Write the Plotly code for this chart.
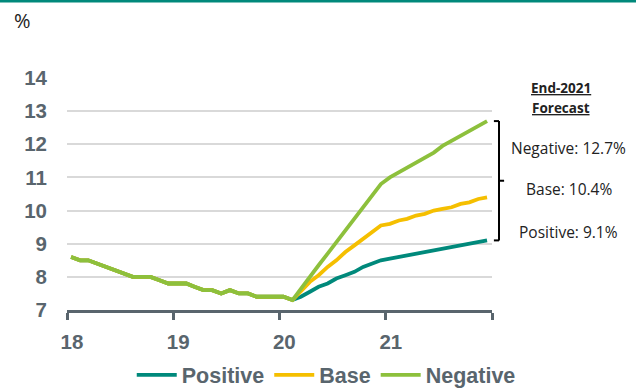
import pandas as pd
import plotly.graph_objects as go

# Monthly observations, mid-month, Jan 2018 - Dec 2021
months = pd.date_range("2018-01-01", "2021-12-01", freq="MS") + pd.Timedelta(days=14)

# Actual rate, Jan 2018 - Feb 2020 (%)
history = [8.6, 8.5, 8.5, 8.4, 8.3, 8.2, 8.1, 8.0, 8.0, 8.0, 7.9, 7.8,
           7.8, 7.8, 7.7, 7.6, 7.6, 7.5, 7.6, 7.5, 7.5, 7.4, 7.4, 7.4,
           7.4, 7.3]

# Scenario paths, Mar 2020 - Dec 2021 (%)
positive_fc = [7.4, 7.55, 7.7, 7.8, 7.95, 8.05, 8.15, 8.3, 8.4, 8.5,
               8.55, 8.6, 8.65, 8.7, 8.75, 8.8, 8.85, 8.9, 8.95, 9.0, 9.05, 9.1]
base_fc = [7.55, 7.85, 8.05, 8.3, 8.5, 8.75, 8.95, 9.15, 9.35, 9.55,
           9.6, 9.7, 9.75, 9.85, 9.9, 10.0, 10.05, 10.1, 10.2, 10.25, 10.35, 10.4]
negative_fc = [7.65, 8.0, 8.35, 8.7, 9.05, 9.4, 9.75, 10.1, 10.45, 10.8,
               11.0, 11.15, 11.3, 11.45, 11.6, 11.75, 11.95, 12.1, 12.25, 12.4, 12.55, 12.7]

scenario_names = ["Positive", "Base", "Negative"]
scenario_colors = ["#00897b", "#f5bf00", "#8dc03c"]
scenario_paths = [positive_fc, base_fc, negative_fc]

year_ticks = ["2018-01-01", "2019-01-01", "2020-01-01", "2021-01-01", "2022-01-01"]
year_labels = ["18", "19", "20", "21", ""]
y_ticks = [7, 8, 9, 10, 11, 12, 13, 14]

AXIS_GREY = "#59656d"
TICK_FONT = dict(family="Liberation Sans, Arial", size=20.5, color=AXIS_GREY, weight="bold")

fig = go.Figure()
for name, color, path in zip(scenario_names, scenario_colors, scenario_paths):
    fig.add_trace(go.Scatter(
        x=months, y=history + path, mode="lines", name=name,
        line=dict(color=color, width=3.8),
    ))

fig.update_layout(
    width=636, height=388,
    margin=dict(l=67, r=144, t=78, b=78, autoexpand=False),
    paper_bgcolor="white", plot_bgcolor="white",
    showlegend=True,
    legend=dict(
        orientation="h", x=0.61, xanchor="center", y=-0.28, yanchor="middle",
        font=dict(family="Liberation Sans, Arial", size=21.5, color=AXIS_GREY, weight="bold"),
        itemwidth=40, tracegroupgap=0,
    ),
    xaxis=dict(
        type="date", range=["2018-01-01", "2022-01-01"],
        tickmode="array", tickvals=year_ticks, ticktext=year_labels,
        ticks="outside", ticklen=7, tickwidth=3, tickcolor=AXIS_GREY,
        showline=True, linewidth=3, linecolor=AXIS_GREY,
        showgrid=False, zeroline=False, tickfont=TICK_FONT,
        ticklabelshift=5, ticklabelstandoff=4,
    ),
    yaxis=dict(
        range=[7, 14], tickmode="array", tickvals=y_ticks,
        showgrid=True, gridcolor="#d9d9d9", gridwidth=2,
        zeroline=False, showline=False, ticks="",
        tickfont=TICK_FONT, ticklabelstandoff=19,
    ),
)

# Unit label and top rule
fig.add_annotation(text="%", xref="paper", yref="paper", x=-0.13, y=1.25,
                   xanchor="left", yanchor="middle", showarrow=False,
                   font=dict(family="Open Sans", size=20, color="#222222"))
fig.add_shape(type="rect", xref="paper", yref="paper",
              x0=-67 / 425, x1=569 / 425, y0=1 + 75.5 / 232, y1=1 + 79 / 232,
              fillcolor="#00897b", line=dict(width=0), layer="above")

# End-2021 forecast panel
RIGHT_FONT = dict(family="Open Sans", size=15.5, color="#222222")
HEAD_FONT = dict(family="Open Sans", size=13.5, color="#222222")
fig.add_annotation(text="<b><u>End-2021</u></b>", xref="paper", yref="y",
                   x=1.163, y=13.7, xanchor="center", showarrow=False, font=HEAD_FONT)
fig.add_annotation(text="<b><u>Forecast</u></b>", xref="paper", yref="y",
                   x=1.163, y=13.1, xanchor="center", showarrow=False, font=HEAD_FONT)

label_rows = [11.88, 10.65, 9.35]
for name, path, ly in zip(["Negative", "Base", "Positive"],
                          [negative_fc, base_fc, positive_fc], label_rows):
    fig.add_annotation(text=f"{name}: {path[-1]}%", xref="paper", yref="y",
                       x=1.18, y=ly, xanchor="center", showarrow=False, font=RIGHT_FONT)

# Bracket spanning the scenario range
top, bottom = negative_fc[-1], positive_fc[-1]
mid = (top + bottom) / 2
bx = (499 - 67) / 425
bracket = dict(color="black", width=2)
fig.add_shape(type="line", xref="paper", yref="y", x0=bx, x1=bx, y0=bottom, y1=top, line=bracket)
fig.add_shape(type="line", xref="paper", yref="y", x0=bx - 0.012, x1=bx, y0=top, y1=top, line=bracket)
fig.add_shape(type="line", xref="paper", yref="y", x0=bx - 0.012, x1=bx, y0=bottom, y1=bottom, line=bracket)
fig.add_shape(type="line", xref="paper", yref="y", x0=bx, x1=bx + 0.012, y0=mid, y1=mid, line=bracket)

fig.write_html("out.html")
